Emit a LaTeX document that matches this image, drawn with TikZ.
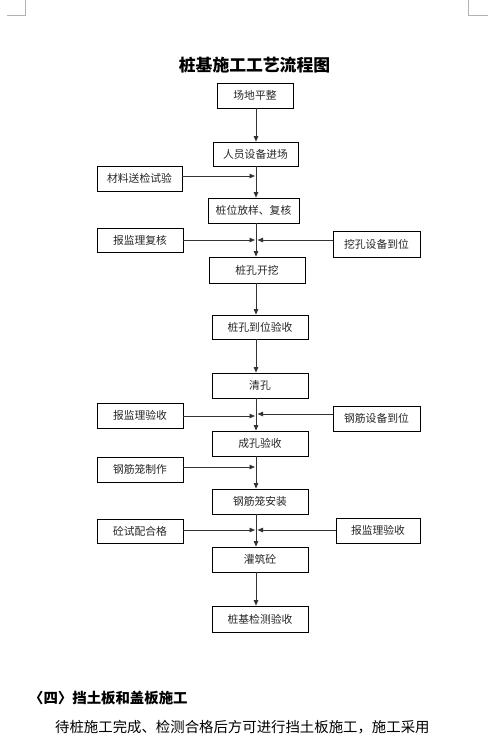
\documentclass[tikz,border=0pt]{standalone}
\usepackage{fontspec}
\setmainfont{Noto Sans CJK SC}
\usetikzlibrary{arrows.meta}
\begin{document}
\begin{tikzpicture}[x=1pt,y=-1pt,
  box/.style={draw=black,line width=0.8pt,inner sep=0pt,font=\fontsize{10.8}{12}\selectfont,text=black!85},
  flow/.style={draw=black!80,line width=0.8pt,-{Triangle[length=5.5pt,width=4.5pt]}},
  corner/.style={draw=black!30,line width=0.8pt}]
\useasboundingbox (0,0) rectangle (496,748);
% corner marks
\coordinate (c1) at (7,15); \coordinate (c2) at (25,15); \coordinate (c3) at (25,0);
\draw[corner] (c1) -- (c2) -- (c3);
\coordinate (c4) at (488,15); \coordinate (c5) at (468,15); \coordinate (c6) at (468,0);
\draw[corner] (c4) -- (c5) -- (c6);
% title
\node[font=\fontsize{16.8}{18}\selectfont\bfseries] (title) at (254.5,65) {桩基施工工艺流程图};
% main boxes
\node[box,minimum width=76pt,minimum height=25pt] (b1) at (255,95.5) {场地平整};
\node[box,minimum width=85pt,minimum height=24pt] (b2) at (255.5,154) {人员设备进场};
\node[box,minimum width=91pt,minimum height=25pt] (b3) at (253.5,210.5) {桩位放样、复核};
\node[box,minimum width=96pt,minimum height=26pt] (b4) at (257,270) {桩孔开挖};
\node[box,minimum width=96pt,minimum height=24pt] (b5) at (260,327) {桩孔到位验收};
\node[box,minimum width=96pt,minimum height=25pt] (b6) at (260,385.5) {清孔};
\node[box,minimum width=96pt,minimum height=25pt] (b7) at (260,443.5) {成孔验收};
\node[box,minimum width=96pt,minimum height=25pt] (b8) at (260,501.5) {钢筋笼安装};
\node[box,minimum width=96pt,minimum height=25pt] (b9) at (260,559.5) {灌筑砼};
\node[box,minimum width=96pt,minimum height=26pt] (b10) at (260,619) {桩基检测验收};
% side boxes
\node[box,minimum width=85pt,minimum height=25pt] (m1) at (139.5,178.5) {材料送检试验};
\node[box,minimum width=86pt,minimum height=24pt] (m2) at (140,240) {报监理复核};
\node[box,minimum width=86pt,minimum height=25pt] (m3) at (140,415.5) {报监理验收};
\node[box,minimum width=86pt,minimum height=25pt] (m4) at (140,469.5) {钢筋笼制作};
\node[box,minimum width=86pt,minimum height=24pt] (m5) at (140,531) {砼试配合格};
\node[box,minimum width=87pt,minimum height=26pt] (r1) at (376.5,244) {挖孔设备到位};
\node[box,minimum width=87pt,minimum height=25pt] (r2) at (376.5,418.5) {钢筋设备到位};
\node[box,minimum width=84pt,minimum height=25pt] (r3) at (378,530.5) {报监理验收};
% main line
\coordinate (mx) at (256,0);
\foreach \a/\b in {b1/b2,b2/b3,b3/b4,b4/b5,b5/b6,b6/b7,b7/b8,b8/b9,b9/b10}
  \draw[flow] (\a.south -| mx) -- (\b.north -| mx);
% junctions
\coordinate (j1) at (255,176);
\coordinate (j2l) at (255,240); \coordinate (j2r) at (257.5,240);
\coordinate (j3l) at (255,416); \coordinate (j3r) at (257.5,414);
\coordinate (j4) at (255,467);
\coordinate (j5l) at (255,530); \coordinate (j5r) at (257.5,530);
\draw[flow] (m1.east |- j1) -- (j1);
\draw[flow] (m2.east |- j2l) -- (j2l);
\draw[flow] (r1.west |- j2r) -- (j2r);
\draw[flow] (m3.east |- j3l) -- (j3l);
\draw[flow] (r2.west |- j3r) -- (j3r);
\draw[flow] (m4.east |- j4) -- (j4);
\draw[flow] (m5.east |- j5l) -- (j5l);
\draw[flow] (r3.west |- j5r) -- (j5r);
% bottom text
\node[anchor=west,font=\fontsize{14.4}{16}\selectfont\bfseries,inner sep=0pt] (h4) at (29,698) {〈四〉挡土板和盖板施工};
\node[anchor=west,font=\fontsize{14.4}{16}\selectfont,inner sep=0pt] (p1) at (55,727) {待桩施工完成、检测合格后方可进行挡土板施工，施工采用};
\end{tikzpicture}
\end{document}
